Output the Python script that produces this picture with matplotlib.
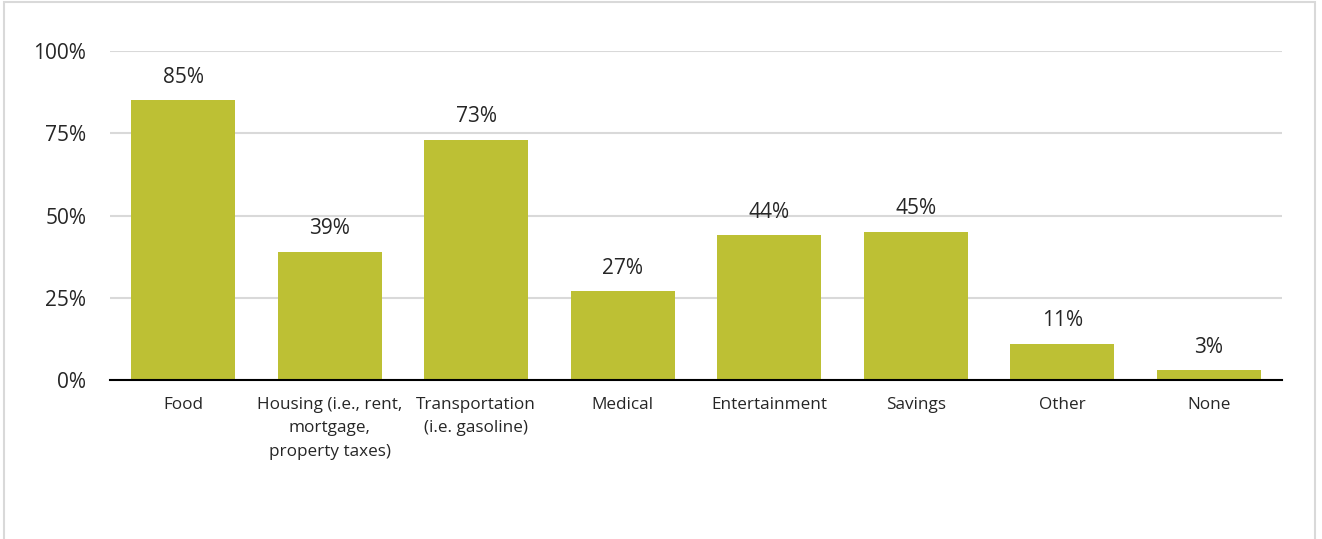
import matplotlib
matplotlib.use("Agg")
import matplotlib.pyplot as plt
from matplotlib.patches import Rectangle

categories = ["Food", "Housing (i.e., rent,\nmortgage,\nproperty taxes)",
              "Transportation\n(i.e. gasoline)", "Medical", "Entertainment",
              "Savings", "Other", "None"]
values = [85, 39, 73, 27, 44, 45, 11, 3]
yticks = [0, 25, 50, 75, 100]
ytick_labels = ["0%", "25%", "50%", "75%", "100%"]

bar_color = "#BDC034"
text_color = "#262626"
grid_color = "#D9D9D9"

plt.rcParams["font.family"] = ["Open Sans", "DejaVu Sans"]

fig = plt.figure(figsize=(13.22, 5.39), dpi=100)
W, H = 1322, 539

# outer frame of the chart area
fig.patches.append(Rectangle((4 / W, -0.1), (1315 - 4) / W, 1.1 - 2 / H,
                             transform=fig.transFigure, fill=False,
                             edgecolor=grid_color, linewidth=1.5))

ax = fig.add_axes([110 / W, 1 - 380 / H, (1282 - 110) / W, (380 - 51) / H])
x = range(len(categories))
ax.bar(x, values, width=0.71, color=bar_color, zorder=2)

for xi, v in zip(x, values):
    ax.annotate(f"{v}%", (xi, v), xytext=(0, 9), textcoords="offset points",
                ha="center", va="bottom", fontsize=15, color=text_color)

ax.set_xlim(-0.5, len(categories) - 0.5)
ax.set_ylim(0, 100)
ax.set_yticks(yticks)
ax.set_yticklabels(ytick_labels, fontsize=15, color=text_color)
ax.set_xticks(list(x))
ax.set_xticklabels(categories, fontsize=12.3, color=text_color, linespacing=1.65)
ax.tick_params(axis="both", length=0)
ax.tick_params(axis="y", pad=17)
ax.tick_params(axis="x", pad=12)

ax.yaxis.grid(True, color=grid_color, linewidth=1.5, zorder=0)
ax.set_axisbelow(True)
for s in ["top", "right", "left"]:
    ax.spines[s].set_visible(False)
ax.spines["bottom"].set_color("black")
ax.spines["bottom"].set_linewidth(1.5)
ax.spines["bottom"].set_zorder(3)

fig.savefig("out.png", dpi=100)
